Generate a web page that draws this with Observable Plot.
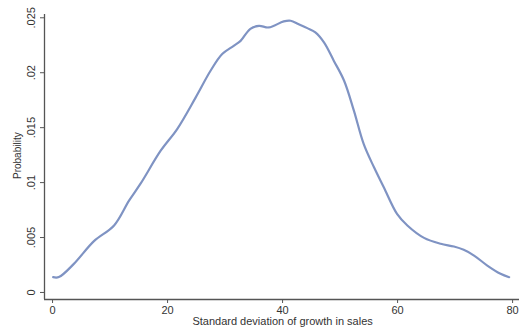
<!DOCTYPE html>
<html><head><meta charset="utf-8">
<script src="https://cdn.jsdelivr.net/npm/d3@7"></script>
<script src="https://cdn.jsdelivr.net/npm/@observablehq/plot@0.6"></script>
<style>body{margin:0;background:#fff}</style>
</head><body><div id="chart"></div>
<script>
const sdGrowth = [0.1,1.1,3.7,7.2,10.7,13.3,15.3,18.8,21.7,24.9,27.5,29.5,31.5,32.7,34.4,35.9,37.6,40.2,41.4,42.8,44.3,45.7,47.2,48.9,50.7,52.4,54.1,55.9,57.6,59.9,61.7,64.6,67.5,69.8,71.5,73.3,75.6,77.9,79.4];
const probability = [0.00139,0.0014,0.0026,0.00467,0.0061,0.00836,0.0099,0.0129,0.0149,0.01776,0.0202,0.0217,0.02245,0.0229,0.0240,0.02427,0.02412,0.02467,0.02473,0.02442,0.02406,0.02367,0.02276,0.0211,0.01927,0.01655,0.01352,0.01139,0.00957,0.00715,0.0061,0.00497,0.00443,0.00418,0.00388,0.00336,0.00245,0.0017,0.00139];
const xTicks = [0,20,40,60,80];
const yTicks = [0,0.005,0.01,0.015,0.02,0.025];
const xTitle = "Standard deviation of growth in sales";
const yTitle = "Probability";

const data = sdGrowth.map((x,i)=>({x, y: probability[i]}));
const xDom = [-1.4, 81.2], yDom = [-0.00064, 0.0253];
const fmtY = d => d === 0 ? "0" : String(d).replace(/^0/, "");
const axisColor = "#555";

const chart = Plot.plot({
  width: 527, height: 334,
  marginLeft: 44, marginRight: 8, marginTop: 14, marginBottom: 35,
  style: {fontFamily: "'Liberation Sans', Arial, sans-serif", fontSize: "11px", color: "#333", background: "#fff"},
  x: {domain: xDom},
  y: {domain: yDom},
  marks: [
    Plot.ruleY([yDom[0]], {stroke: axisColor, strokeWidth: 1.3}),
    Plot.ruleX([xDom[0]], {stroke: axisColor, strokeWidth: 1.3}),
    Plot.axisX({ticks: xTicks, tickSize: 4, tickPadding: 3, tickFormat: d => String(d), stroke: axisColor, fill: "#333", label: null}),
    Plot.axisY({ticks: yTicks, tickSize: 4, tickFormat: () => "", stroke: axisColor, label: null}),
    Plot.text(yTicks, {x: () => xDom[0], y: d => d, text: fmtY, rotate: -90, dx: -13, fill: "#333", fontSize: 11}),
    Plot.text([yTitle], {x: () => xDom[0], y: () => 0.01245, text: d => d, rotate: -90, dx: -27, fill: "#333", fontSize: 10}),
    Plot.text([xTitle], {x: () => 40, y: () => yDom[0], text: d => d, dy: 22, fill: "#333", fontSize: 11}),
    Plot.line(data, {x: "x", y: "y", stroke: "#7f93c3", strokeWidth: 2.2, curve: "catmull-rom"})
  ]
});
document.getElementById("chart").append(chart);
</script></body></html>
